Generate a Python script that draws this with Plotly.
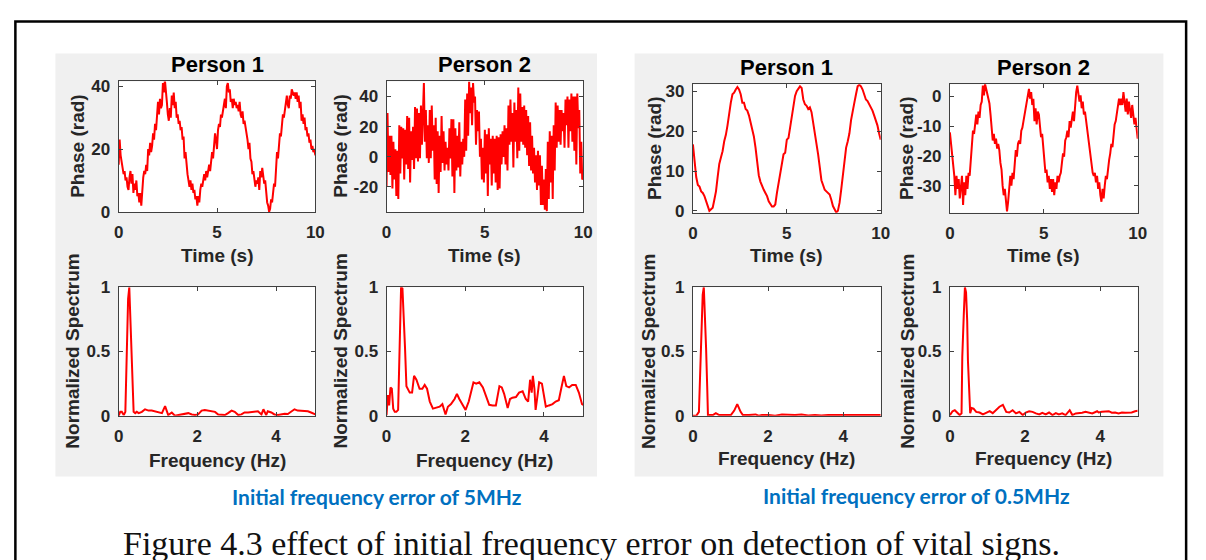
import plotly.graph_objects as go

W, H = 1206, 560

# ---------------- data ----------------
# Phase, Person 1, 5 MHz error (t = 0 .. 10 s, 201 samples)
phase_p1_5mhz = [
    15, 23, 18, 15, 14, 12, 13, 10, 11, 8, 7,
    11, 13, 9, 12, 6, 9, 7, 10, 5, 6,
    3, 6, 2, 9, 11, 13, 12, 15, 13, 20,
    18, 22, 19, 21, 25, 23, 28, 26, 33, 35,
    31, 36, 33, 34, 41, 38, 42, 37, 35, 31,
    29, 33, 30, 37, 34, 38, 33, 35, 30, 31,
    28, 29, 26, 27, 23, 24, 17, 19, 14, 12,
    10, 8, 10, 7, 9, 6, 7, 4, 5, 2,
    5, 3, 7, 9, 8, 11, 12, 10, 13, 11,
    14, 15, 13, 17, 19, 17, 22, 25, 23, 20,
    26, 28, 27, 31, 30, 33, 34, 36, 33, 40,
    41, 38, 39, 35, 36, 33, 36, 34, 35, 33,
    34, 32, 35, 31, 30, 32, 28, 29, 26, 25,
    23, 20, 22, 17, 16, 12, 13, 10, 8, 10,
    9, 11, 7, 13, 11, 14, 12, 9, 10, 6,
    3, 2, 0, 1, 4, 3, 6, 9, 8, 14,
    19, 17, 21, 25, 24, 29, 31, 30, 33, 35,
    37, 34, 33, 37, 36, 39, 38, 37, 38, 36,
    38, 35, 37, 33, 35, 29, 31, 28, 30, 26,
    27, 24, 25, 22, 23, 20, 21, 19, 20, 18,
]

# Phase, Person 2, 5 MHz error
phase_p2_5mhz = [
    -20, 29, -10, 14, -12, 14, -21, 10, -15, 5, -26,
    4, -28, 21, -11, 20, -1, 19, -15, 18, -5,
    27, -8, 26, -17, 17, -2, 20, -8, 33, -1,
    32, -3, 29, -1, 34, 8, 36, 49, 10, 31,
    -1, 21, -4, 31, -1, 34, 4, 21, -15, 26,
    -18, 17, -24, 14, -10, 27, -4, 17, -9, 10,
    -5, 6, -9, 19, -1, 25, -13, 25, -24, 19,
    -9, 14, -7, 23, -13, 10, -5, 12, 0, 38,
    4, 42, 14, 50, 29, 46, 21, 49, 36, 40,
    8, 31, 17, 30, 0, 12, -15, 6, -17, 18,
    -11, 15, -26, 19, -5, 12, -19, 14, -11, 12,
    -17, 14, -22, 13, -21, 15, -5, 17, 0, 21,
    -5, 19, -9, 34, 8, 38, 10, 29, -7, 36,
    10, 31, -1, 46, 4, 42, 10, 33, 8, 34,
    6, 31, 1, 27, -6, 23, -9, 14, -11, 6,
    -17, 1, -22, 4, -19, 1, -32, -6, -32, -15,
    -35, -8, -36, 10, -28, 17, -17, 14, -28, 21,
    -9, 36, 6, 34, 10, 31, 8, 31, 17, 29,
    6, 38, 21, 40, 6, 38, 17, 42, 10, 40,
    4, 40, -5, 42, 19, 31, -11, 10, -15, -14,
]

# Phase, Person 1, 0.5 MHz error (115 samples over 10 s)
phase_p1_05mhz = [
    16.7, 11.8, 8.5, 6.5, 6.1, 4.9, 4.5, 3.7, 2.4, 1.6,
    0.0, 0.4, 0.8, 2.8, 4.9, 8.5, 11.8, 13.4, 15.0, 17.5,
    19.1, 21.5, 24.8, 27.2, 29.3, 29.7, 30.5, 31.1, 30.5, 29.3,
    27.2, 27.2, 25.6, 25.2, 24.0, 22.4, 20.3, 18.7, 15.9, 12.6,
    8.9, 7.3, 6.1, 5.3, 4.5, 3.7, 2.4, 1.6, 1.1, 1.1,
    1.6, 4.5, 6.9, 10.2, 12.6, 14.2, 14.6, 17.9, 18.3, 20.7,
    24.0, 26.4, 28.9, 30.1, 30.9, 31.3, 30.9, 28.0, 26.8, 26.4,
    25.6, 26.0, 24.8, 22.4, 19.9, 17.5, 14.2, 11.0, 7.7, 6.5,
    5.3, 4.9, 4.5, 4.1, 2.8, 1.2, 0.4, -0.4, 0.0, 2.0,
    5.3, 9.3, 12.6, 15.9, 17.5, 19.5, 22.8, 25.6, 27.2, 29.3,
    31.3, 31.7, 31.3, 30.5, 28.9, 28.0, 27.6, 26.8, 26.4, 25.2,
    24.0, 22.8, 21.5, 19.5, 17.9,
]

# Phase, Person 2, 0.5 MHz error (172 samples over 10 s)
phase_p2_05mhz = [
    -12.1, -15.9, -20.2, -23.4, -26.6, -33.1, -26.6, -31.0, -27.7, -34.2,
    -28.8, -26.6, -36.4, -28.8, -33.1, -26.6, -31.0, -25.6, -26.6, -20.2,
    -14.8, -11.5, -12.6, -8.3, -6.1, -9.4, -5.1, -7.2, -2.9, -1.8,
    3.6, 0.3, 4.1, 2.5, 0.9, -0.8, -2.4, -6.1, -9.4, -14.8,
    -12.6, -15.9, -14.2, -17.5, -15.9, -18.0, -22.3, -24.5, -29.9, -33.1,
    -31.0, -35.3, -38.5, -35.3, -31.0, -26.6, -29.9, -25.6, -27.7, -23.4,
    -18.0, -20.2, -15.9, -14.8, -15.9, -11.5, -10.5, -8.3, -6.1, -4.0,
    -2.9, -0.8, 2.5, -0.8, 1.4, -2.9, -0.8, -8.3, -4.0, -9.4,
    -5.1, -6.1, -10.5, -13.7, -12.6, -18.0, -22.3, -25.6, -24.5, -28.8,
    -26.6, -31.0, -27.7, -32.0, -27.7, -33.1, -28.8, -31.0, -26.6, -28.8,
    -26.6, -25.6, -22.3, -19.1, -20.2, -14.8, -13.7, -11.5, -13.7, -8.3,
    -10.5, -7.2, -5.1, -8.3, -2.9, 1.4, 3.6, 1.4, -1.8, 0.3,
    -4.0, -1.8, -6.1, -5.1, -8.3, -10.5, -14.8, -18.0, -19.1, -23.4,
    -25.6, -26.6, -25.6, -28.8, -26.6, -31.0, -28.8, -33.1, -35.3, -31.0,
    -34.2, -29.9, -26.6, -27.7, -23.4, -21.3, -19.1, -15.9, -17.0, -12.6,
    -9.4, -8.3, -6.1, -4.0, -0.8, -2.9, -0.8, -2.9, 1.4, -1.8,
    -5.1, -0.8, -6.1, -1.8, -4.0, -7.2, -2.9, -6.1, -9.4, -7.2,
    -11.5, -14.2,
]

# Normalized spectra: frequency (Hz) and value pairs
spec_p1_5mhz_f = [0, 0.04, 0.08, 0.13, 0.17, 0.19, 0.22, 0.24, 0.27, 0.29,
                  0.32, 0.35, 0.38, 0.42, 0.46, 0.51, 0.59, 0.67, 0.76, 0.84,
                  0.93, 1.01, 1.10, 1.18, 1.22, 1.26, 1.35, 1.43, 1.52, 1.60,
                  1.69, 1.77, 1.86, 1.94, 2.02, 2.11, 2.19, 2.28, 2.36, 2.45,
                  2.53, 2.61, 2.70, 2.78, 2.87, 2.95, 3.04, 3.12, 3.20, 3.29,
                  3.37, 3.46, 3.54, 3.63, 3.68, 3.75, 3.79, 3.88, 3.96, 4.05,
                  4.13, 4.22, 4.30, 4.38, 4.47, 4.55, 4.64, 4.72, 4.81, 4.89,
                  4.97, 5.0]
spec_p1_5mhz_v = [0, 0.03, 0.03, 0.005, 0.03, 0.36, 0.66, 0.91, 1.0, 0.81,
                  0.63, 0.41, 0.03, 0.02, 0.03, 0.02, 0.03, 0.05, 0.04, 0.04,
                  0.035, 0.03, 0.02, 0.075, 0.04, 0.005, 0.025, 0, 0.005, 0.01,
                  0.015, 0.02, 0.01, 0.005, 0.01, 0.04, 0.045, 0.04, 0.04, 0.03,
                  0.01, 0.005, 0.005, 0.02, 0.04, 0.03, 0.005, 0.01, 0.025, 0.025,
                  0.03, 0.03, 0.035, 0.01, 0.05, 0.005, 0.035, 0.025, 0.01, 0.005,
                  0.01, 0.015, 0.013, 0.03, 0.05, 0.04, 0.04, 0.04, 0.035, 0.025,
                  0.01, 0.01]

spec_p2_5mhz_f = [0, 0.034, 0.067, 0.10, 0.135, 0.17, 0.21, 0.25, 0.295, 0.337,
                  0.37, 0.405, 0.44, 0.47, 0.506, 0.548, 0.59, 0.65, 0.70, 0.76,
                  0.84, 0.91, 0.97, 1.03, 1.10, 1.18, 1.26, 1.35, 1.42, 1.50,
                  1.56, 1.64, 1.73, 1.79, 1.85, 1.94, 2.01, 2.09, 2.15, 2.21,
                  2.28, 2.36, 2.45, 2.53, 2.61, 2.70, 2.78, 2.87, 2.93, 2.99,
                  3.08, 3.14, 3.20, 3.29, 3.37, 3.46, 3.54, 3.60, 3.65, 3.69,
                  3.72, 3.76, 3.79, 3.84, 3.88, 3.95, 4.01, 4.05, 4.13, 4.22,
                  4.30, 4.38, 4.44, 4.51, 4.57, 4.64, 4.72, 4.81, 4.89, 4.97,
                  5.0]
spec_p2_5mhz_v = [0.005, 0.16, 0.08, 0.22, 0.21, 0.055, 0.03, 0.03, 0.045, 0.48,
                  1.0, 0.99, 0.79, 0.53, 0.23, 0.21, 0.18, 0.18, 0.31, 0.28,
                  0.21, 0.21, 0.24, 0.21, 0.11, 0.055, 0.06, 0.07, 0.09, 0.01,
                  0.07, 0.09, 0.13, 0.17, 0.13, 0.08, 0.045, 0.11, 0.18, 0.26,
                  0.25, 0.26, 0.22, 0.16, 0.085, 0.08, 0.08, 0.23, 0.22, 0.17,
                  0.06, 0.13, 0.14, 0.145, 0.18, 0.19, 0.13, 0.11, 0.28, 0.18,
                  0.31, 0.21, 0.045, 0.16, 0.26, 0.25, 0.13, 0.07, 0.08, 0.09,
                  0.11, 0.12, 0.21, 0.31, 0.23, 0.22, 0.24, 0.24, 0.18, 0.09,
                  0.085]

spec_p1_05mhz_f = [0, 0.09, 0.16, 0.19, 0.23, 0.26, 0.29, 0.32, 0.35, 0.38,
                   0.40, 0.53, 0.61, 0.70, 0.88, 1.01, 1.10, 1.18, 1.27, 1.33,
                   1.49, 1.67, 1.75, 1.84, 2.02, 2.19, 2.37, 2.54, 2.72, 2.89,
                   3.07, 3.25, 3.42, 3.60, 3.77, 3.95, 4.12, 4.30, 4.47, 4.65,
                   4.82, 5.0]
spec_p1_05mhz_v = [0, 0, 0.03, 0.28, 0.61, 0.94, 1.0, 0.81, 0.53, 0.23,
                   0.005, 0.005, 0.02, 0.005, 0.005, 0.005, 0.04, 0.09, 0.03, 0.005,
                   0.005, 0.01, 0, 0.005, 0.005, 0, 0.01, 0.005, 0.005, 0.01,
                   0.002, 0.005, 0.002, 0.005, 0.005, 0.005, 0.005, 0.005, 0.005, 0.005,
                   0.005, 0.005]

spec_p2_05mhz_f = [0, 0.07, 0.13, 0.20, 0.26, 0.31, 0.33, 0.37, 0.40, 0.43,
                   0.46, 0.48, 0.51, 0.54, 0.58, 0.63, 0.70, 0.79, 0.88, 0.97,
                   1.06, 1.14, 1.23, 1.32, 1.41, 1.50, 1.58, 1.67, 1.76, 1.85,
                   1.94, 2.02, 2.11, 2.20, 2.29, 2.38, 2.46, 2.55, 2.64, 2.73,
                   2.82, 2.90, 2.99, 3.08, 3.19, 3.26, 3.35, 3.43, 3.52, 3.61,
                   3.70, 3.79, 3.92, 3.96, 4.05, 4.14, 4.23, 4.31, 4.40, 4.49,
                   4.58, 4.67, 4.75, 4.84, 4.93, 5.0]
spec_p2_05mhz_v = [0.005, 0.035, 0.043, 0.018, 0.005, 0.018, 0.46, 0.79, 1.0, 0.96,
                   0.74, 0.43, 0.13, 0.02, 0.06, 0.055, 0.03, 0.025, 0.01, 0.02,
                   0.035, 0.02, 0.043, 0.07, 0.085, 0.03, 0.025, 0.043, 0.018, 0.03,
                   0.005, 0.025, 0.035, 0.03, 0.018, 0.01, 0.023, 0.01, 0.025, 0.005,
                   0.02, 0.01, 0.018, 0.005, 0.043, 0.005, 0.018, 0.018, 0.023, 0.03,
                   0.025, 0.018, 0.035, 0.025, 0.03, 0.03, 0.035, 0.023, 0.025, 0.018,
                   0.025, 0.023, 0.023, 0.025, 0.035, 0.038]

titles = ["Person 1", "Person 2"]
phase_label = "Phase (rad)"
spec_label = "Normalized Spectrum"
time_label = "Time (s)"
freq_label = "Frequency (Hz)"
caption_left = "Initial frequency error of 5MHz"
caption_right = "Initial frequency error of 0.5MHz"
figure_caption = "Figure 4.3 effect of initial frequency error on detection of vital signs."


def times(vals):
    n = len(vals)
    return [10.0 * i / (n - 1) for i in range(n)]


# ---------------- layout helpers ----------------
def PX(x):
    return x / W


def PY(y):
    return 1 - y / H


RED = "#ff0000"
AXC = "#404040"
TXT = "#262626"
SANS = "Liberation Sans, Arial, sans-serif"

# pixel boxes, x range, y range, xticks, yticks, x data, y data
panels = [
    ((115, 314, 75, 210), [0, 10], [0, 41.5], [0, 5, 10], [0, 20, 40],
     times(phase_p1_5mhz), phase_p1_5mhz),
    ((386, 585, 75, 210), [0, 10], [-36.5, 50], [0, 5, 10], [-20, 0, 20, 40],
     times(phase_p2_5mhz), phase_p2_5mhz),
    ((115, 314, 288, 421), [0, 5], [0, 1], [0, 2, 4], [0, 0.5, 1],
     spec_p1_5mhz_f, spec_p1_5mhz_v),
    ((386, 585, 288, 421), [0, 5], [0, 1], [0, 2, 4], [0, 0.5, 1],
     spec_p2_5mhz_f, spec_p2_5mhz_v),
    ((696, 886, 78, 211), [0, 10], [-0.5, 31.8], [0, 5, 10], [0, 10, 20, 30],
     times(phase_p1_05mhz), phase_p1_05mhz),
    ((956, 1146, 78, 211), [0, 10], [-39, 4], [0, 5, 10], [-30, -20, -10, 0],
     times(phase_p2_05mhz), phase_p2_05mhz),
    ((696, 886, 288, 421), [0, 5], [0, 1], [0, 2, 4], [0, 0.5, 1],
     spec_p1_05mhz_f, spec_p1_05mhz_v),
    ((956, 1146, 288, 421), [0, 5], [0, 1], [0, 2, 4], [0, 0.5, 1],
     spec_p2_05mhz_f, spec_p2_05mhz_v),
]

fig = go.Figure()
layout = dict(
    width=W, height=H, autosize=False,
    margin=dict(l=0, r=0, t=0, b=0),
    paper_bgcolor="white", plot_bgcolor="white",
    showlegend=False,
)

shapes = [
    # gray figure panels
    dict(type="rect", xref="paper", yref="paper", x0=PX(51), x1=PX(599), y0=PY(484), y1=PY(46),
         fillcolor="#f0f0f0", line=dict(width=0), layer="below"),
    dict(type="rect", xref="paper", yref="paper", x0=PX(637), x1=PX(1172), y0=PY(484), y1=PY(46),
         fillcolor="#f0f0f0", line=dict(width=0), layer="below"),
]

tickfont = dict(family=SANS, size=17, color=TXT, weight="bold")

for i, (box, xr, yr, xt, yt, xd, yd) in enumerate(panels, start=1):
    x0, x1, y0, y1 = box
    sx = "" if i == 1 else str(i)
    fig.add_trace(go.Scatter(x=xd, y=yd, mode="lines",
                             line=dict(color=RED, width=2),
                             xaxis="x" + sx, yaxis="y" + sx, hoverinfo="skip"))
    common = dict(showline=True, linecolor=AXC, linewidth=1, mirror="ticks",
                  ticks="inside", ticklen=4, tickwidth=1, tickcolor=AXC,
                  showgrid=False, zeroline=False, tickfont=tickfont, fixedrange=True)
    layout["xaxis" + sx] = dict(domain=[PX(x0), PX(x1)], anchor="y" + sx, range=xr,
                                tickvals=xt, ticktext=[f"{v:g}" for v in xt],
                                ticklabelstandoff=5, **common)
    layout["yaxis" + sx] = dict(domain=[PY(y1), PY(y0)], anchor="x" + sx, range=yr,
                                tickvals=yt, ticktext=[f"{v:g}" for v in yt],
                                ticklabelstandoff=4, **common)
    shapes.append(dict(type="rect", xref="paper", yref="paper", x0=PX(x0), x1=PX(x1),
                       y0=PY(y1), y1=PY(y0), fillcolor="white", line=dict(width=0),
                       layer="below"))

# outer black frame (bottom edge lies outside the picture)
shapes.append(dict(type="rect", xref="paper", yref="paper", x0=PX(10.5), x1=PX(1195),
                   y0=PY(620), y1=PY(13), fillcolor="rgba(0,0,0,0)",
                   line=dict(color="black", width=2.5), layer="above"))
layout["shapes"] = shapes

ann = []


def text(t, x, y, size, color=TXT, angle=0, family=SANS, weight="bold", xanchor="center"):
    ann.append(dict(text=t, x=PX(x), y=PY(y), xref="paper", yref="paper",
                    showarrow=False, xanchor=xanchor, yanchor="middle", textangle=angle,
                    font=dict(family=family, size=size, color=color, weight=weight)))


# subplot titles
text(titles[0], 214.5, 57, 22, color="black")
text(titles[1], 485.5, 57, 22, color="black")
text(titles[0], 791, 61, 22, color="black")
text(titles[1], 1051, 61, 22, color="black")
# y labels
for x, yc in [(74, 142.5), (340, 142.5), (657, 144.5), (912, 144.5)]:
    text(phase_label, x, yc, 19, angle=-90)
for x, yc in [(68, 354.5), (339, 354.5), (651, 354.5), (913, 354.5)]:
    text(spec_label, x, yc, 19, angle=-90)
# x labels
for x, yc in [(214.5, 255), (485.5, 255), (791, 255.5), (1051, 255.5)]:
    text(time_label, x, yc, 19)
for x, yc in [(214.5, 467), (485.5, 467), (791, 465), (1051, 465)]:
    text(freq_label, x, yc, 19)
# blue captions
text(caption_left, 376, 505, 21, color="#0070c0", family="Lato, Carlito, sans-serif")
text(caption_right, 922, 504, 21, color="#0070c0", family="Lato, Carlito, sans-serif")
# figure caption (cut by the bottom edge, as in the reference)
text(figure_caption, 117, 553, 34, color="#111111",
     family="Liberation Serif, Times New Roman, serif", weight="normal", xanchor="left")

layout["annotations"] = ann
fig.update_layout(**layout)
fig.write_html("out.html")
